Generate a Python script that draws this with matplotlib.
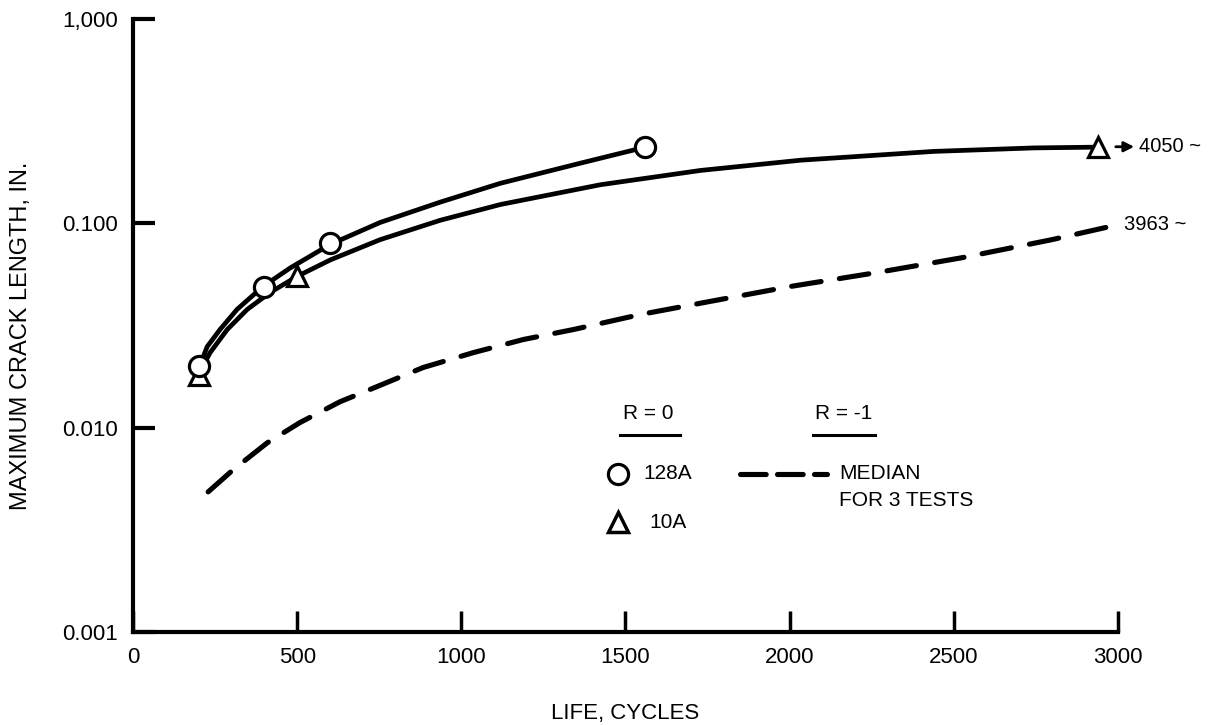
import matplotlib
matplotlib.use("Agg")
import matplotlib.pyplot as plt
from matplotlib.ticker import FixedLocator, FixedFormatter, NullLocator

plt.rcParams['font.family'] = ['Liberation Sans', 'DejaVu Sans']

# specimen 128A, R = 0 (circles) - test points and faired curve
pts_128a_x = [200, 400, 600, 1560]
pts_128a_y = [0.020, 0.049, 0.080, 0.236]
curve_128a_x = [207, 226, 265, 317, 396, 479, 601, 753, 936, 1119, 1363, 1561]
curve_128a_y = [0.0208, 0.0249, 0.0302, 0.0379, 0.0491, 0.0605, 0.0789, 0.101,
                0.127, 0.157, 0.197, 0.236]

# specimen 10A, R = 0 (triangles)
pts_10a_x = [200, 500, 2940]
pts_10a_y = [0.018, 0.055, 0.236]
curve_10a_x = [207, 235, 287, 348, 418, 500, 601, 753, 936, 1119, 1424, 1729,
               2034, 2439, 2744, 2939]
curve_10a_y = [0.0192, 0.0233, 0.0302, 0.0379, 0.0459, 0.0550, 0.0662, 0.0832, 0.1035,
               0.1236, 0.1545, 0.1815, 0.2037, 0.2249, 0.2339, 0.236]

# R = -1 median for 3 tests (dashed)
median_x = [229, 305, 409, 509, 631, 744, 884, 1037, 1189, 1341, 1546, 1741, 2003,
            2268, 2530, 2796, 3006]
median_y = [0.00485, 0.00622, 0.00843, 0.0106, 0.0134, 0.0159, 0.0197, 0.0233, 0.0270,
            0.0302, 0.0358, 0.0410, 0.0491, 0.0575, 0.0681, 0.0830, 0.0989]

x_ticks = [0, 500, 1000, 1500, 2000, 2500, 3000]
x_labels = ['0', '500', '1000', '1500', '2000', '2500', '3000']
y_ticks = [0.001, 0.01, 0.1, 1.0]
y_labels = ['0.001', '0.010', '0.100', '1,000']

fig = plt.figure(figsize=(12.1, 7.25), dpi=100)
ax = fig.add_axes([0.1099, 0.1283, 0.8140, 0.8455])

lw = 3.4
dash = (5.8, 3.6)
ax.plot(curve_128a_x, curve_128a_y, color='black', lw=lw, solid_capstyle='round',
        solid_joinstyle='round', zorder=2)
ax.plot(curve_10a_x, curve_10a_y, color='black', lw=lw, solid_capstyle='round',
        solid_joinstyle='round', zorder=2)
ax.plot(median_x, median_y, color='black', lw=3.7, dashes=dash, dash_capstyle='round',
        dash_joinstyle='round', zorder=2)

ax.plot(pts_10a_x, pts_10a_y, linestyle='none', marker='^', markersize=15, markerfacecolor='white',
        markeredgecolor='black', markeredgewidth=2.3, zorder=3)
ax.plot(pts_128a_x, pts_128a_y, linestyle='none', marker='o', markersize=14.5, markerfacecolor='white',
        markeredgecolor='black', markeredgewidth=2.3, zorder=4)

ax.set_xlim(0, 3000)
ax.set_yscale('log')
ax.set_ylim(0.001, 1.0)

ax.xaxis.set_major_locator(FixedLocator(x_ticks))
ax.xaxis.set_major_formatter(FixedFormatter(x_labels))
ax.yaxis.set_major_locator(FixedLocator(y_ticks))
ax.yaxis.set_major_formatter(FixedFormatter(y_labels))
ax.yaxis.set_minor_locator(NullLocator())

for side in ['top', 'right']:
    ax.spines[side].set_visible(False)
for side in ['left', 'bottom']:
    ax.spines[side].set_linewidth(3)
    ax.spines[side].set_capstyle('projecting')

ax.tick_params(axis='x', direction='in', length=15, width=2.5, pad=11, labelsize=16)
ax.tick_params(axis='y', direction='in', length=16, width=3, pad=11, labelsize=16)

ax.set_xlabel('LIFE, CYCLES', fontsize=16, va='baseline')
ax.xaxis.set_label_coords(0.5, -0.142)
ax.set_ylabel('MAXIMUM CRACK LENGTH, IN.', fontsize=17)
ax.yaxis.set_label_coords(-0.1025, 0.483)

# run-out annotations
ax.annotate('', xy=(3058, 0.237), xytext=(2985, 0.237), annotation_clip=False,
            arrowprops=dict(arrowstyle='-|>', color='black', lw=2, mutation_scale=15))
ax.text(3065, 0.237, '4050 ~', fontsize=14.5, va='center', ha='left', clip_on=False)
ax.text(3020, 0.099, '3963 ~', fontsize=14.5, va='center', ha='left', clip_on=False)

# legend drawn by hand
tr = ax.transAxes
ax.text(0.523, 0.357, 'R = 0', transform=tr, fontsize=15, ha='center', va='center')
ax.plot([0.494, 0.555], [0.321, 0.321], transform=tr, color='black', lw=2.2)
ax.text(0.722, 0.357, 'R = -1', transform=tr, fontsize=15, ha='center', va='center')
ax.plot([0.690, 0.753], [0.321, 0.321], transform=tr, color='black', lw=2.2)

ax.plot([0.492], [0.258], transform=tr, marker='o', markersize=14.5, markerfacecolor='white',
        markeredgecolor='black', markeredgewidth=2.3, linestyle='none')
ax.text(0.518, 0.258, '128A', transform=tr, fontsize=15, va='center')
ax.plot([0.492], [0.179], transform=tr, marker='^', markersize=15, markerfacecolor='white',
        markeredgecolor='black', markeredgewidth=2.5, linestyle='none')
ax.text(0.524, 0.179, '10A', transform=tr, fontsize=15, va='center')

ax.plot([0.616, 0.705], [0.258, 0.258], transform=tr, color='black', lw=3.7, dashes=(5.0, 2.2),
        dash_capstyle='round')
ax.text(0.717, 0.258, 'MEDIAN', transform=tr, fontsize=15, va='center')
ax.text(0.717, 0.215, 'FOR 3 TESTS', transform=tr, fontsize=15, va='center')

fig.savefig('out.png', dpi=100)
